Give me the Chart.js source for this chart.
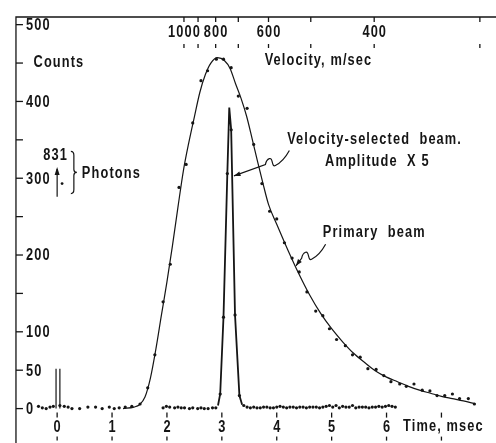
<!DOCTYPE html>
<html>
<head>
<meta charset="utf-8">
<script src="https://cdn.jsdelivr.net/npm/chart.js@4.4.0/dist/chart.umd.min.js"></script>
<style>
  html, body { margin:0; padding:0; background:#fff; }
  #wrap { width:496px; height:443px; }
</style>
</head>
<body>
<div id="wrap"><canvas id="tof" width="496" height="443"></canvas></div>
<script>
/* ---------- data (time in msec, counts) ---------- */
const timeTicks   = [0, 1, 2, 3, 4, 5, 6, 7];
const timeLabels  = ['0', '1', '2', '3', '4', '5', '6', ''];
const countTicks  = [0, 50, 100, 150, 200, 250, 300, 350, 400, 450, 500];
const countLabels = ['0', '50', '100', '', '200', '', '300', '', '400', '', '500'];
const velTicks    = [1000, 900, 800, 700, 600, 500, 400, 300];
const velLabels   = ['1000', '', '800', '', '600', '', '400', ''];
const FLIGHT_MM   = 2310;              // t(msec) = FLIGHT_MM / v(m/sec)

/* primary beam – measured points */
const primT = [-0.34,-0.27,-0.20,-0.13,-0.07,0.05,0.13,0.20,0.27,0.41,0.56,0.70,0.82,0.95,1.04,1.13,1.24,1.36,1.51,
  1.65,1.78,1.93,2.06,2.22,2.35,2.47,2.62,2.74,2.90,3.03,3.17,3.30,3.46,3.58,3.73,3.87,4.00,4.14,4.28,4.41,4.55,
  4.71,4.84,4.96,5.09,5.25,5.38,5.52,5.66,5.81,5.95,6.08,6.24,6.36,6.50,6.65,6.79,6.92,7.06,7.20,7.33,7.49,7.60];
const primN = [3,1,0,2,3,4,3,2,0,0,2,2,0,2,0,1,2,3,6,
  27,70,139,188,288,318,372,427,440,455,455,444,407,391,344,293,257,247,216,196,178,152,
  127,121,104,90,82,70,67,52,51,43,35,32,29,32,24,23,17,17,19,13,13,6];

/* primary beam – smooth drawn curve */
const curveT = [1.20,1.40,1.50,1.60,1.70,1.80,1.90,2.00,2.10,2.20,2.30,2.40,2.50,2.60,2.70,2.80,2.92,3.05,3.15,3.25,
  3.35,3.45,3.55,3.65,3.75,3.85,4.00,4.20,4.40,4.60,4.80,5.00,5.20,5.40,5.60,5.80,6.00,6.20,6.40,6.60,6.80,7.00,7.20,7.40,7.62];
const curveN = [0,2,5,15,40,78,122,165,212,262,310,347,380,412,435,450,457,453,443,423,
  404,381,352,322,293,266,240,207,176,148,124,104,87,72,60,49,41,35,29,24,20,16,13,10,6];

/* velocity-selected beam (amplitude x5) – measured points */
const vsT = [1.93,1.99,2.05,2.14,2.20,2.26,2.32,2.41,2.47,2.56,2.62,2.68,2.75,2.83,2.89,
  2.97,3.03,3.10,3.17,3.24,3.32,3.40,
  3.46,3.52,3.58,3.64,3.70,3.76,3.82,3.88,3.94,4.00,4.06,4.12,4.18,4.24,4.30,4.36,4.42,4.48,4.54,4.60,
  4.66,4.72,4.78,4.84,4.90,4.96,5.02,5.08,5.14,5.20,5.26,5.32,5.38,5.44,5.50,5.56,5.62,5.68,5.74,5.80,
  5.86,5.92,5.98,6.04,6.10,6.16];
const vsN = [1,3,2,1,2,1,1,0,1,0,1,0,0,1,1,
  19,119,306,363,122,17,4,
  2,1,2,1,1,2,2,1,1,2,3,2,1,2,2,1,2,2,1,2,
  2,2,1,2,3,4,2,4,1,3,2,2,4,1,2,2,2,1,2,2,
  3,2,3,4,3,2];

/* velocity-selected beam – drawn peak */
const vsLineT = [2.93,2.97,3.03,3.10,3.135,3.17,3.24,3.32,3.37];
const vsLineN = [4,19,119,306,392,363,122,17,5];

/* photon pulse at t = 0 (off scale, 831 counts) */
const photonT   = [-0.02, 0.05];
const photonTop = 52;

/* ---------- helpers ---------- */
const INK  = '#151515';
const FONT = 'bold 16px "Liberation Sans", Arial, sans-serif';
const NARROW = 0.8;                    // hand lettering is narrow but widely spaced
const pts  = (xs, ys) => xs.map((t, i) => ({ x:t, y:ys[i] }));
const dots = (data) => ({ data, showLine:false, pointRadius:1.6, pointBackgroundColor:INK, pointBorderWidth:0 });
const line = (data, w, extra={}) => ({ data, showLine:true, pointRadius:0, borderColor:INK, borderWidth:w, ...extra });

function txt(ctx, s, x, y, align='left') {
  ctx.save();
  ctx.translate(x, y);
  ctx.scale(NARROW, 1);
  ctx.letterSpacing = '1.4px';
  ctx.textAlign = align; ctx.textBaseline = 'middle';
  ctx.fillText(s, align === 'center' ? 0.7 : 0, 0);
  ctx.restore();
}

/* ---------- axes, labels and notes drawn on the chart's own scales ---------- */
const framePlugin = {
  id:'frame',
  afterDraw(chart) {
    const { ctx, scales:{ x, y } } = chart;
    const X = v => x.getPixelForValue(v);
    const Y = v => y.getPixelForValue(v);
    const left = X(-0.75), top = Y(510), y0 = Y(0);

    ctx.save();
    ctx.strokeStyle = INK; ctx.fillStyle = INK; ctx.lineWidth = 1.3;
    ctx.font = FONT;

    // frame: left axis + top border
    ctx.beginPath();
    ctx.moveTo(left, chart.height); ctx.lineTo(left, top); ctx.lineTo(chart.width, top);
    ctx.stroke();

    // counts axis
    countTicks.forEach((v, i) => {
      ctx.beginPath(); ctx.moveTo(left, Y(v)); ctx.lineTo(left + 7, Y(v)); ctx.stroke();
      if (countLabels[i]) txt(ctx, countLabels[i], left + 10, Y(v) + 1);
    });

    // time axis (no baseline)
    timeTicks.forEach((t, i) => {
      ctx.beginPath(); ctx.moveTo(X(t), y0 + 4); ctx.lineTo(X(t), y0 + 9); ctx.stroke();
      ctx.beginPath(); ctx.moveTo(X(t), y0 + 28); ctx.lineTo(X(t), y0 + 32); ctx.stroke();
      if (timeLabels[i]) txt(ctx, timeLabels[i], X(t), y0 + 19, 'center');
    });
    txt(ctx, 'Time, msec', X(6.3), y0 + 18);

    // velocity axis along the top
    velTicks.forEach((v, i) => {
      const px = X(FLIGHT_MM / v);
      ctx.beginPath(); ctx.moveTo(px, top); ctx.lineTo(px, top + 5); ctx.stroke();
      ctx.beginPath(); ctx.moveTo(px, top + 27); ctx.lineTo(px, top + 31); ctx.stroke();
      if (velLabels[i]) txt(ctx, velLabels[i], px, top + 16, 'center');
    });

    // text notes
    txt(ctx, 'Counts', X(-0.43), Y(451));
    txt(ctx, 'Velocity, m/sec', X(3.78), Y(453));
    txt(ctx, 'Velocity-selected  beam.', X(4.19), Y(350));
    txt(ctx, 'Amplitude  X 5', X(4.88), Y(322));
    txt(ctx, 'Primary  beam', X(4.84), Y(229));
    txt(ctx, '831', X(-0.04), Y(329), 'center');
    txt(ctx, 'Photons', X(0.45), Y(306));

    // photon arrow + dot + brace
    ctx.lineWidth = 1.2;
    const ax = X(0), ay1 = Y(276), ay2 = Y(312);
    ctx.beginPath(); ctx.moveTo(ax, ay1); ctx.lineTo(ax, ay2); ctx.stroke();
    ctx.beginPath(); ctx.moveTo(ax, ay2 - 2); ctx.lineTo(ax - 2.5, ay2 + 6); ctx.lineTo(ax + 2.5, ay2 + 6); ctx.closePath(); ctx.fill();
    ctx.beginPath(); ctx.arc(X(0.09), Y(293), 1.4, 0, Math.PI * 2); ctx.fill();
    const bx = X(0.25), bt = Y(335), bb = Y(280), bm = (bt + bb) / 2;
    ctx.beginPath();
    ctx.moveTo(bx, bt); ctx.quadraticCurveTo(bx + 3, bt, bx + 3, bt + 4);
    ctx.lineTo(bx + 3, bm - 3); ctx.quadraticCurveTo(bx + 3, bm, bx + 6, bm);
    ctx.quadraticCurveTo(bx + 3, bm, bx + 3, bm + 3);
    ctx.lineTo(bx + 3, bb - 4); ctx.quadraticCurveTo(bx + 3, bb, bx, bb);
    ctx.stroke();

    // wavy leaders with arrowheads
    const leader = (sx, sy, ex, ey) => {
      const wx = sx - 24, wy = sy + 14;
      ctx.beginPath();
      ctx.moveTo(sx, sy);
      ctx.quadraticCurveTo(sx - 6, sy + 11, sx - 14, sy + 15);
      ctx.bezierCurveTo(sx - 18, sy + 17, sx - 16, sy + 7, sx - 20, sy + 8);
      ctx.quadraticCurveTo(sx - 23, sy + 9, wx, wy);
      ctx.lineTo(ex, ey);
      ctx.stroke();
      const a = Math.atan2(ey - wy, ex - wx);
      ctx.beginPath();
      ctx.moveTo(ex, ey);
      ctx.lineTo(ex - 7 * Math.cos(a - 0.35), ey - 7 * Math.sin(a - 0.35));
      ctx.lineTo(ex - 7 * Math.cos(a + 0.35), ey - 7 * Math.sin(a + 0.35));
      ctx.closePath(); ctx.fill();
    };
    leader(X(4.23), Y(336), X(3.22), Y(303));
    leader(X(4.89), Y(214), X(4.35), Y(186));

    ctx.restore();
  }
};

new Chart(document.getElementById('tof'), {
  type:'scatter',
  data:{
    datasets:[
      line(pts(curveT, curveN), 1.2, { cubicInterpolationMode:'monotone' }),
      dots(pts(primT, primN)),
      line(pts(vsLineT, vsLineN), 1.8),
      dots(pts(vsT, vsN)),
      ...photonT.map(t => line(pts([t, t], [0, photonTop]), 1.2))
    ]
  },
  options:{
    responsive:false, animation:false, events:[],
    layout:{ padding:0 },
    plugins:{ legend:{ display:false }, tooltip:{ enabled:false } },
    scales:{
      x:{ type:'linear', min:-0.968, max:7.921, display:false },
      y:{ type:'linear', min:-39.6, max:526.9, display:false }
    }
  },
  plugins:[framePlugin]
});
</script>
</body>
</html>
